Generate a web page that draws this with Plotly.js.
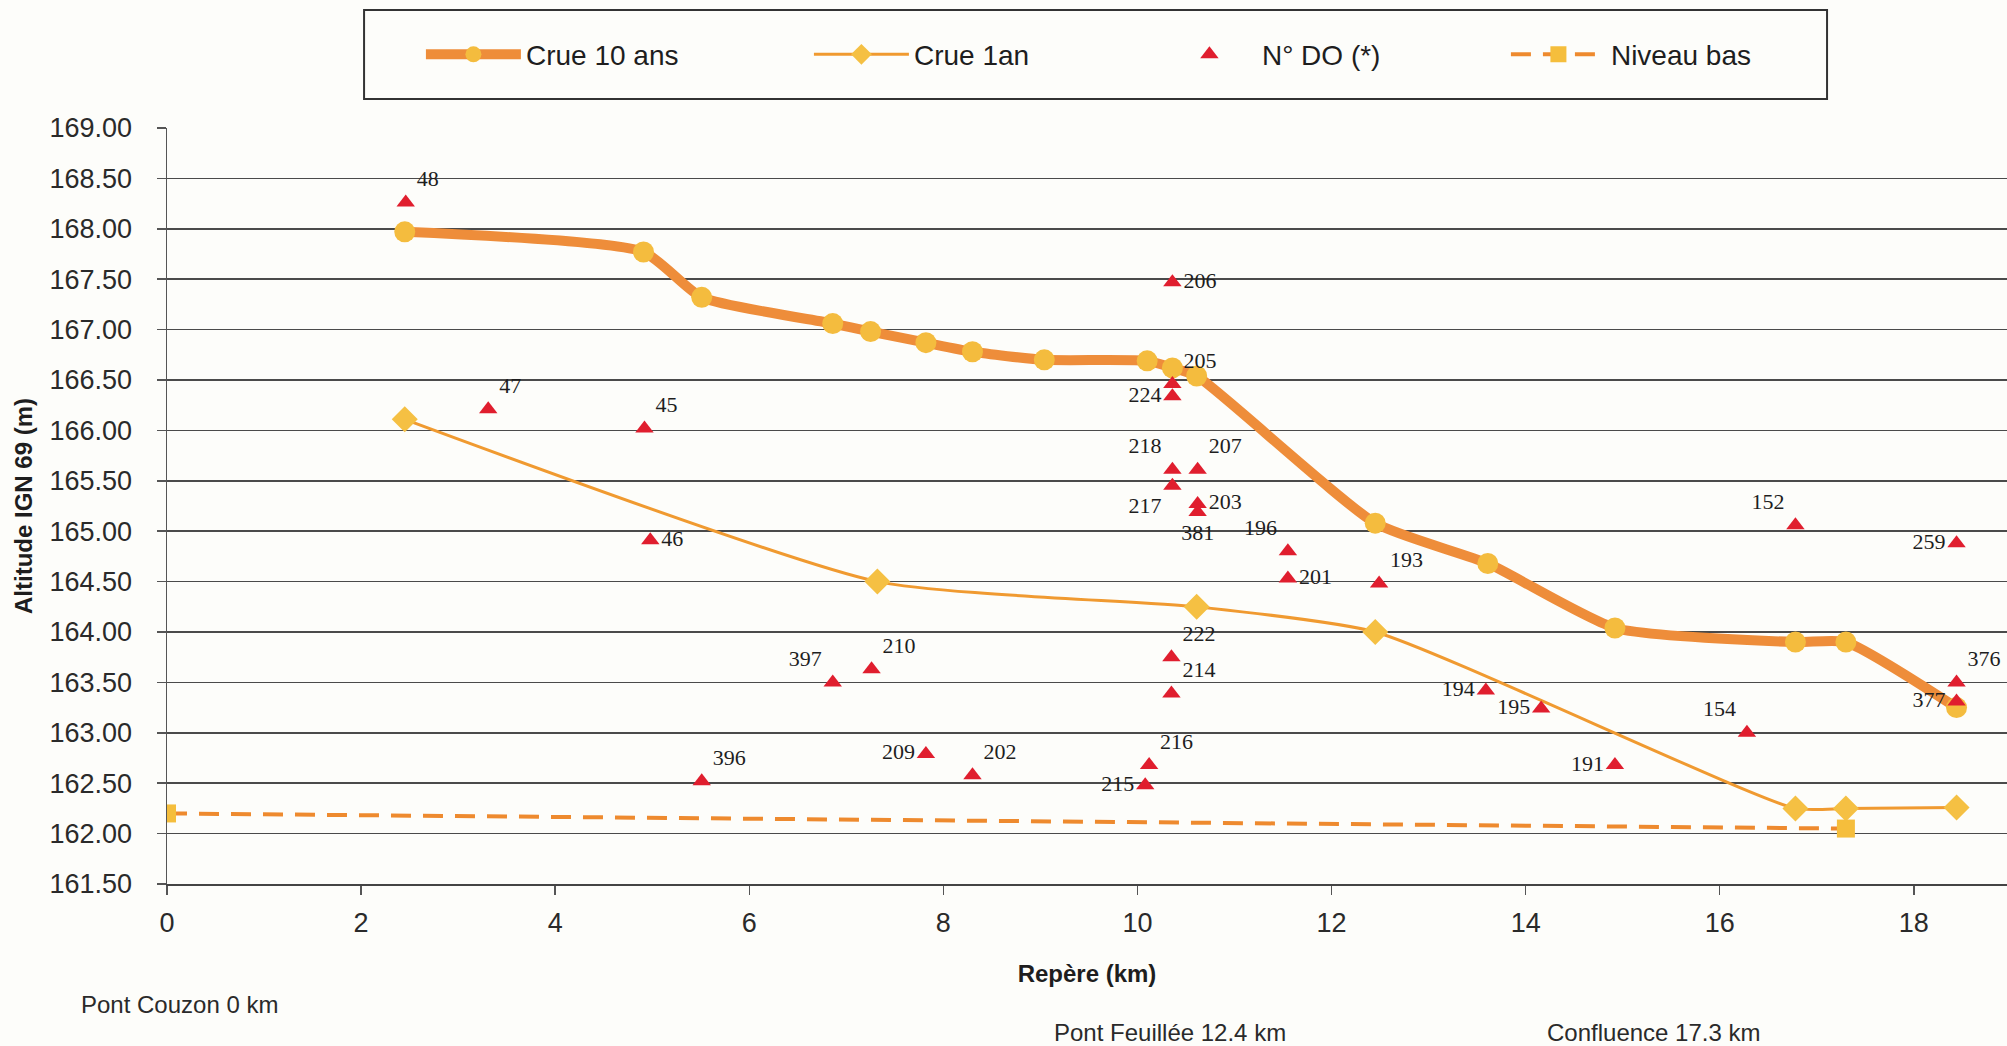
<!DOCTYPE html>
<html>
<head>
<meta charset="utf-8">
<script src="https://cdn.plot.ly/plotly-3.0.1.min.js"></script>
<style>
html,body{margin:0;padding:0;background:#fdfdfa;}
#chart{width:2007px;height:1046px;}
</style>
</head>
<body>
<div id="chart"></div>
<script>
// Crue 10 ans
const crue10X = [2.45, 4.91, 5.51, 6.86, 7.25, 7.82, 8.30, 9.04, 10.10, 10.36, 10.61, 12.45, 13.61, 14.92, 16.78, 17.30, 18.44];
const crue10Y = [167.97, 167.77, 167.32, 167.06, 166.98, 166.87, 166.78, 166.70, 166.69, 166.62, 166.54, 165.08, 164.68, 164.04, 163.90, 163.90, 163.25];

// Crue 1an
const crue1X = [2.45, 7.32, 10.61, 12.45, 16.78, 17.30, 18.44];
const crue1Y = [166.11, 164.50, 164.25, 164.00, 162.25, 162.25, 162.26];

// Niveau bas
const basX = [0, 17.30];
const basY = [162.20, 162.05];

// N° DO
const doLabels = ['48','47','45','46','396','397','210','209','202','216','215','206','205','224','218','217','222','214','207','203','381','196','201','193','194','195','191','154','152','259','376','377'];
const doX = [2.46, 3.31, 4.92, 4.98, 5.51, 6.86, 7.26, 7.82, 8.30, 10.12, 10.08, 10.36, 10.36, 10.36, 10.36, 10.36, 10.35, 10.35, 10.62, 10.62, 10.62, 11.55, 11.55, 12.49, 13.59, 14.16, 14.92, 16.28, 16.78, 18.44, 18.44, 18.44];
const doY = [168.26, 166.21, 166.02, 164.91, 162.52, 163.50, 163.63, 162.79, 162.58, 162.68, 162.48, 167.47, 166.46, 166.34, 165.61, 165.45, 163.75, 163.39, 165.61, 165.27, 165.19, 164.80, 164.53, 164.48, 163.42, 163.24, 162.68, 163.00, 165.06, 164.88, 163.50, 163.31];

// label placement (style)
const doTextPos = ['top right','top right','top right','middle right','top right','top left','top right','middle left','top right','top right','middle left','middle right','top right','middle left','top left','bottom left','top right','top right','top right','middle right','bottom center','top left','middle right','top right','middle left','middle left','middle left','top left','top left','middle left','top right','middle left'];

const yTicks = [161.5, 162, 162.5, 163, 163.5, 164, 164.5, 165, 165.5, 166, 166.5, 167, 167.5, 168, 168.5, 169];
const xTicks = [0, 2, 4, 6, 8, 10, 12, 14, 16, 18];

const footer = [
  {text: 'Pont Couzon 0 km', x: -0.0478, y: -0.160},
  {text: 'Pont Feuillée 12.4 km', x: 0.481, y: -0.196},
  {text: 'Confluence 17.3 km', x: 0.7489, y: -0.196}
];

const traces = [
  {
    name: 'Crue 10 ans', x: crue10X, y: crue10Y, type: 'scatter', mode: 'lines+markers',
    line: {color: '#EE8D3A', width: 10, shape: 'spline', smoothing: 0.55},
    marker: {symbol: 'circle', size: 21, color: '#F4BC3E'},
    legendwidth: 278
  },
  {
    name: 'Crue 1an', x: crue1X, y: crue1Y, type: 'scatter', mode: 'lines+markers',
    line: {color: '#F09A30', width: 3, shape: 'spline', smoothing: 0.55},
    marker: {symbol: 'diamond', size: 20, color: '#F5C043'},
    legendwidth: 238
  },
  {
    name: 'N° DO (*)', x: doX, y: doY, text: doLabels, type: 'scatter', mode: 'markers+text',
    textposition: doTextPos,
    textfont: {family: 'Liberation Serif, Times New Roman, serif', size: 22, color: '#1e1e1e'},
    marker: {symbol: 'triangle-up', size: 16, color: '#E01E2E'},
    legendwidth: 239
  },
  {
    name: 'Niveau bas', x: basX, y: basY, type: 'scatter', mode: 'lines+markers',
    line: {color: '#EE8A2E', width: 4, dash: '20px,12px'},
    marker: {symbol: 'square', size: 18, color: '#F5BE3C'}
  }
];

const annotations = footer.map(f => ({
  text: f.text, x: f.x, y: f.y, xref: 'paper', yref: 'paper',
  xanchor: 'left', yanchor: 'middle', showarrow: false,
  font: {family: 'Liberation Sans, Arial, sans-serif', size: 24, color: '#2a2a2a'}
}));

const layout = {
  width: 2007, height: 1046,
  paper_bgcolor: '#fdfdfa', plot_bgcolor: '#fdfdfa',
  margin: {l: 167, r: 0, t: 128, b: 162},
  font: {family: 'Liberation Sans, Arial, sans-serif', color: '#222'},
  showlegend: true,
  legend: {
    orientation: 'h', x: 0.138, xanchor: 'left', y: 1.097, yanchor: 'middle',
    font: {size: 28, color: '#1e1e1e'}, itemwidth: 95,
    bgcolor: 'rgba(0,0,0,0)', borderwidth: 0, traceorder: 'normal'
  },
  xaxis: {
    range: [0, 18.96], tickvals: xTicks, ticktext: xTicks.map(String),
    showgrid: false, zeroline: false,
    showline: true, linecolor: '#444', linewidth: 2,
    ticks: 'outside', ticklen: 9, tickcolor: '#555', tickwidth: 1.5,
    ticklabelstandoff: 5,
    tickfont: {size: 27, color: '#2a2a2a'},
    title: {text: 'Repère (km)', font: {size: 24, color: '#1e1e1e', family: 'Liberation Sans, Arial, sans-serif', weight: 'bold'}, standoff: 28}
  },
  yaxis: {
    range: [161.5, 169], tickvals: yTicks, ticktext: yTicks.map(v => v.toFixed(2)),
    showgrid: true, gridcolor: '#4a4a4a', gridwidth: 1.5, zeroline: false,
    showline: true, linecolor: '#555', linewidth: 1.5,
    ticks: 'outside', ticklen: 9, tickcolor: '#555', tickwidth: 1.5,
    ticklabelstandoff: 19,
    tickfont: {size: 27, color: '#2a2a2a'},
    title: {text: 'Altitude IGN 69 (m)', font: {size: 24, color: '#1e1e1e', family: 'Liberation Sans, Arial, sans-serif', weight: 'bold'}, standoff: 10}
  },
  shapes: [
    {type: 'rect', xref: 'paper', yref: 'paper', x0: 0.1071, x1: 0.9022, y0: 1.0384, y1: 1.1561,
     line: {color: '#333', width: 2}, fillcolor: 'rgba(0,0,0,0)'}
  ],
  annotations: annotations
};

Plotly.newPlot('chart', traces, layout, {displayModeBar: false, staticPlot: true});
</script>
</body>
</html>
